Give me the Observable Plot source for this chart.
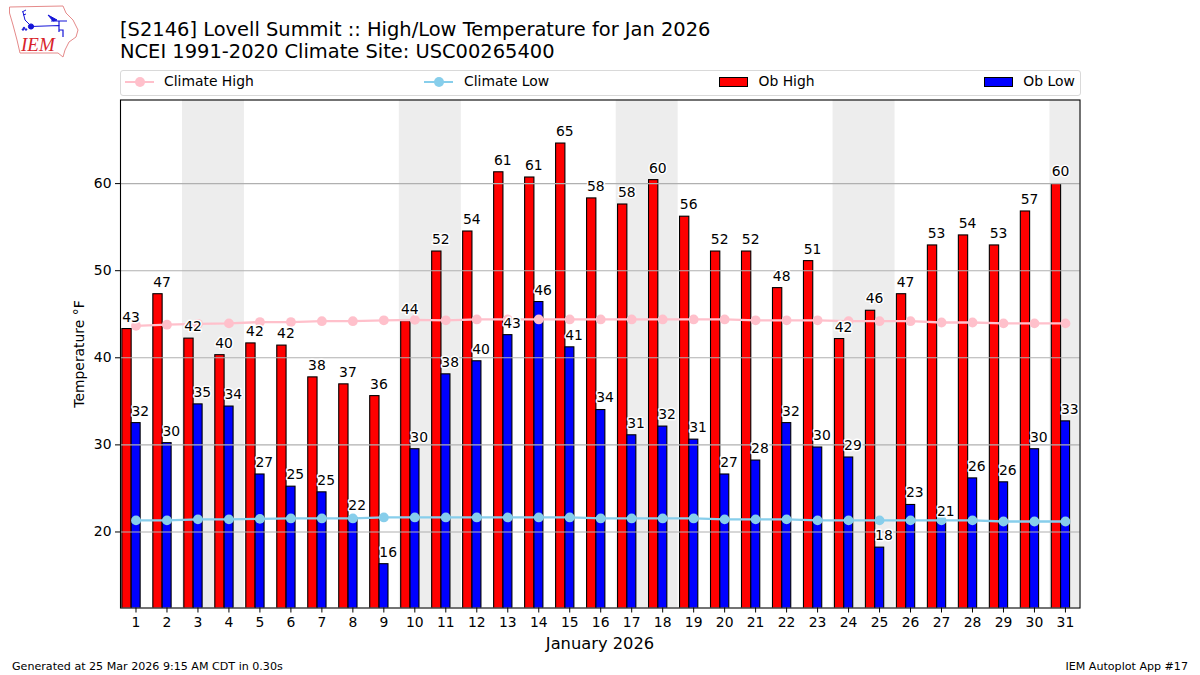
<!DOCTYPE html>
<html>
<head>
<meta charset="utf-8">
<script src="https://cdn.jsdelivr.net/npm/d3@7"></script>
<script src="https://cdn.jsdelivr.net/npm/@observablehq/plot@0.6"></script>
<style>
html,body{margin:0;padding:0;background:#fff;}
body{width:1200px;height:675px;position:relative;overflow:hidden;font-family:"DejaVu Sans",sans-serif;color:#000;}
#chart{position:absolute;left:0;top:0;}
#chart svg{display:block;background:transparent;}
.t{position:absolute;white-space:nowrap;line-height:1;}
#title{left:120px;top:18.5px;font-size:19.45px;line-height:22.5px;}
#legend{position:absolute;left:120px;top:70px;width:958.5px;height:24px;border:1px solid #d9d9d9;border-radius:3px;background:#fff;}
.lg{font-size:13.9px;position:absolute;top:4px;line-height:1;white-space:nowrap;}
.ll{position:absolute;top:9.6px;width:29px;height:2.2px;}
.lm{position:absolute;top:5.7px;width:10px;height:10px;border-radius:50%;}
.lp{position:absolute;top:6px;width:27px;height:7.5px;border:1px solid #000;}
</style>
</head>
<body>
<div id="chart"></div>
<svg style="position:absolute;left:0;top:0" width="90" height="65" viewBox="0 0 90 65">
  <path d="M9.5 7 L63 6 L66 13 L73 20 L78 30 L76 37 L69 42 L65 50 L63 57 L58 53 L20 53 L17 40 L13 25 L9.5 13 Z" fill="none" stroke="#e58a8a" stroke-width="1"/>
  <g stroke="#1414d8" fill="#1414d8">
    <path d="M23 12 L25 20 L31 26 M22 12 L26 10 M23 15 L26 14" fill="none" stroke-width="1"/>
    <circle cx="31" cy="26.5" r="2.6"/>
    <path d="M31 26.5 L59 25.5 L59 32 M51 21 L67 21 M59 21 L59 26 M59 30 L63 30 L63 37" fill="none" stroke-width="1.2"/>
    <path d="M48 15 L57 20 L53 21 Z"/>
    <circle cx="24" cy="28" r="0.8"/><circle cx="23" cy="29.5" r="0.8"/><circle cx="26" cy="29.5" r="0.8"/>
  </g>
  <text x="21" y="51" font-family="Liberation Serif" font-style="italic" font-size="19" fill="#d8232a">IEM</text>
</svg>
<div id="title" class="t">[S2146] Lovell Summit :: High/Low Temperature for Jan 2026<br>NCEI 1991-2020 Climate Site: USC00265400</div>
<div id="legend"></div>
<div class="t" style="left:600px;top:636px;font-size:16.3px;transform:translateX(-50%)">January 2026</div>
<div class="t" style="left:12px;top:661px;font-size:11.1px">Generated at 25 Mar 2026 9:15 AM CDT in 0.30s</div>
<div class="t" style="right:12px;top:661px;font-size:11.1px">IEM Autoplot App #17</div>
<script>
const days = [1,2,3,4,5,6,7,8,9,10,11,12,13,14,15,16,17,18,19,20,21,22,23,24,25,26,27,28,29,30,31];
const obHigh = [43.3,47.3,42.2,40.3,41.65,41.4,37.75,36.95,35.6,44.2,52.2,54.5,61.3,60.7,64.6,58.3,57.6,60.4,56.2,52.2,52.2,48.0,51.1,42.15,45.4,47.3,52.9,54.05,52.9,56.8,59.95];
const obLow = [32.5,30.2,34.65,34.4,26.6,25.2,24.55,21.6,16.3,29.5,38.1,39.6,42.6,46.4,41.2,34.0,31.1,32.1,30.6,26.6,28.2,32.5,29.7,28.55,18.2,23.1,21.0,26.15,25.7,29.5,32.7];
const highLabels = [43,47,42,40,42,42,38,37,36,44,52,54,61,61,65,58,58,60,56,52,52,48,51,42,46,47,53,54,53,57,60];
const lowLabels = [32,30,35,34,27,25,25,22,16,30,38,40,43,46,41,34,31,32,31,27,28,32,30,29,18,23,21,26,26,30,33];
const climateHigh = [43.67,43.8,43.9,43.95,44.1,44.1,44.2,44.2,44.3,44.35,44.3,44.4,44.4,44.4,44.4,44.4,44.4,44.4,44.4,44.4,44.3,44.3,44.3,44.2,44.2,44.2,44.05,44.05,43.95,43.95,43.95];
const climateLow = [21.33,21.33,21.45,21.45,21.5,21.55,21.55,21.55,21.67,21.67,21.67,21.67,21.67,21.67,21.67,21.55,21.55,21.55,21.55,21.45,21.45,21.45,21.33,21.33,21.33,21.33,21.33,21.33,21.2,21.2,21.2];
const weekendStart = [2.5,9.5,16.5,23.5,30.5];
const weekendEnd = [4.5,11.5,18.5,25.5,31.5];
const yTicks = [20,30,40,50,60];

const rows = days.map((d,i)=>({d,high:obHigh[i],low:obLow[i],hl:highLabels[i],ll:lowLabels[i],ch:climateHigh[i],cl:climateLow[i]}));
const spans = weekendStart.map((s,i)=>({s,e:weekendEnd[i]}));
const barEdge = {stroke:"#000",strokeWidth:1.1,clip:true};
const halo = {stroke:"#fff",strokeWidth:3,fill:"#000",fontSize:13.9,dy:-12,textAnchor:"middle"};

const chart = Plot.plot({
  width:1200,height:675,
  marginLeft:120,marginRight:120.5,marginTop:99.5,marginBottom:67.5,
  style:{fontFamily:"DejaVu Sans",fontSize:"13.9px",color:"#000",background:"transparent"},
  x:{type:"linear",domain:[0.5,31.47]},
  y:{type:"linear",domain:[11.27,69.6]},
  marks:[
    Plot.rect(spans,{x1:"s",x2:"e",y1:11.27,y2:69.6,fill:"#ededed",clip:true}),
    Plot.rect(rows,{x1:d=>d.d-0.44,x2:d=>d.d-0.14,y1:0,y2:"high",fill:"#ff0000",...barEdge}),
    Plot.rect(rows,{x1:d=>d.d-0.14,x2:d=>d.d+0.15,y1:0,y2:"low",fill:"#0000ff",...barEdge}),
    Plot.ruleY(yTicks,{stroke:"#b0b0b0",strokeWidth:1.1}),
    Plot.line(rows,{x:"d",y:"ch",stroke:"#ffc0cb",strokeWidth:2.3}),
    Plot.dot(rows,{x:"d",y:"ch",r:4.9,fill:"#ffc0cb"}),
    Plot.line(rows,{x:"d",y:"cl",stroke:"#87ceeb",strokeWidth:2.3}),
    Plot.dot(rows,{x:"d",y:"cl",r:4.9,fill:"#87ceeb"}),
    Plot.text(rows,{x:d=>d.d-0.16,y:"high",text:"hl",...halo}),
    Plot.text(rows,{x:d=>d.d+0.14,y:"low",text:"ll",...halo}),
    Plot.frame({stroke:"#000",strokeWidth:1.1}),
    Plot.axisX({ticks:days,tickFormat:d=>String(d),tickSize:5,tickPadding:4,fontSize:13.9,label:null,stroke:"#000"}),
    Plot.axisY({ticks:yTicks,tickFormat:d=>String(d),tickSize:5,tickPadding:4,fontSize:13.9,label:"Temperature °F",labelArrow:"none",labelAnchor:"center",labelOffset:46,stroke:"#000"})
  ]
});
document.getElementById("chart").appendChild(chart);

const lg = document.getElementById("legend");
function add(html){lg.insertAdjacentHTML("beforeend",html);}
function lineEntry(x,color,text,tx){
  add(`<div class="ll" style="left:${x-121}px;background:${color}"></div><div class="lm" style="left:${x-121+9.5}px;background:${color}"></div><div class="lg" style="left:${tx-121}px">${text}</div>`);
}
function patchEntry(x,color,text,tx){
  add(`<div class="lp" style="left:${x-121}px;background:${color}"></div><div class="lg" style="left:${tx-121}px">${text}</div>`);
}
lineEntry(125,"#ffc0cb","Climate High",164);
lineEntry(424,"#87ceeb","Climate Low",464);
patchEntry(719.3,"#ff0000","Ob High",758.5);
patchEntry(984.3,"#0000ff","Ob Low",1023.3);
</script>
</body>
</html>
